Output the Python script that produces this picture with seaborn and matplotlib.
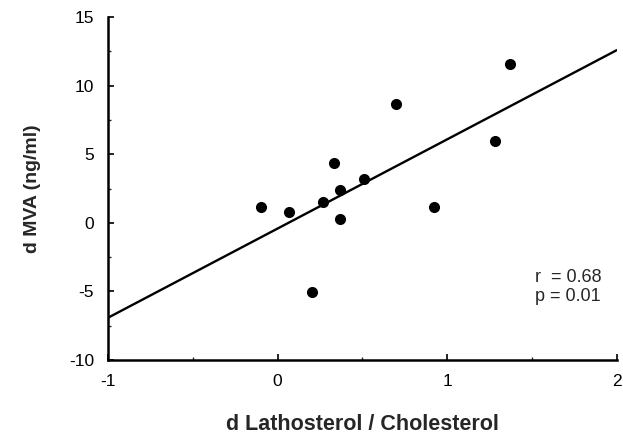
import matplotlib
matplotlib.use("Agg")
import matplotlib.pyplot as plt
import seaborn as sns
import pandas as pd
from matplotlib.ticker import MultipleLocator

d_latho = [-0.10, 0.07, 0.27, 0.33, 0.37, 0.37, 0.51, 0.92, 1.28, 0.70, 1.37, 0.20]
d_mva = [1.17, 0.77, 1.52, 4.36, 2.41, 0.28, 3.19, 1.15, 5.96, 8.64, 11.55, -5.07]
x_ticks = [-1, 0, 1, 2]
y_ticks = [-10, -5, 0, 5, 10, 15]
stats_text = "r  = 0.68\np = 0.01"

sns.set_theme(style="ticks")
plt.rcParams['font.family'] = ['Liberation Sans', 'DejaVu Sans']

df = pd.DataFrame({"x": d_latho, "y": d_mva})

fig = plt.figure(figsize=(6.23, 4.38), dpi=100)
ax = fig.add_axes([0.1734, 0.178, 0.8166, 0.783])
ax.set_xlim(-1, 2)
ax.set_ylim(-10, 15)
sns.regplot(data=df, x="x", y="y", ax=ax, ci=None, truncate=False,
            scatter_kws=dict(s=64, color="black", alpha=1, edgecolor="black",
                             linewidths=0, zorder=3),
            line_kws=dict(color="black", lw=1.7))
ax.set_xlim(-1, 2)
ax.set_ylim(-10, 15)
ax.set_xticks(x_ticks)
ax.set_yticks(y_ticks)
ax.set_xticklabels([str(t) for t in x_ticks])
ax.set_yticklabels([str(t) for t in y_ticks])
ax.xaxis.set_minor_locator(MultipleLocator(0.5))
ax.yaxis.set_minor_locator(MultipleLocator(2.5))
ax.tick_params(axis="both", which="major", direction="in", length=4, width=1.2,
               labelsize=12.5, colors="black", pad=10)
ax.tick_params(axis="both", which="minor", direction="in", length=2.5, width=1)
for s in ["top", "right"]:
    ax.spines[s].set_visible(False)
for s in ["left", "bottom"]:
    ax.spines[s].set_linewidth(1.8)
    ax.spines[s].set_color("black")

ax.set_xlabel("d Lathosterol / Cholesterol", fontsize=15.5, fontweight="bold", labelpad=18)
ax.set_ylabel("d MVA (ng/ml)", fontsize=14, fontweight="bold", labelpad=20)
ax.text(1.52, -4.68, stats_text, fontsize=13, va="center", ha="left", linespacing=1.15)

fig.savefig("out.png", dpi=100)
